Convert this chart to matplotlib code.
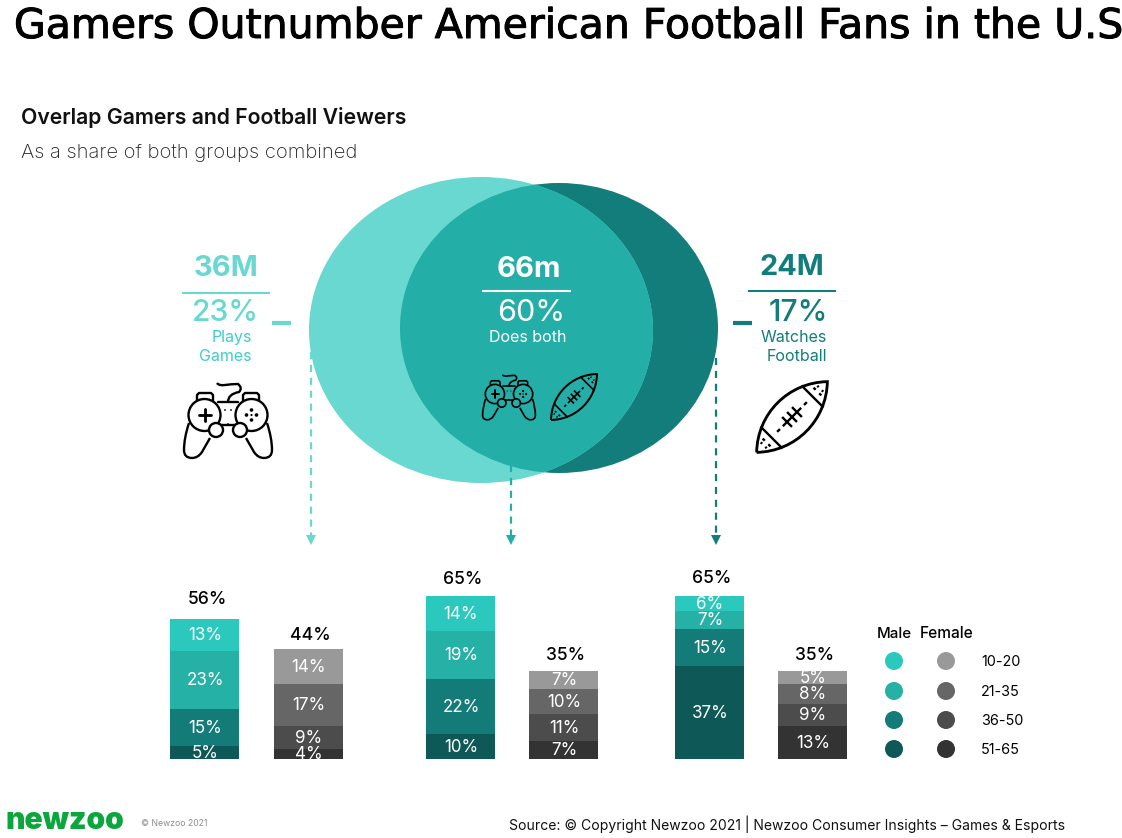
import numpy as np
import matplotlib
matplotlib.use("Agg")
import matplotlib.pyplot as plt
import matplotlib.patheffects as pe
from matplotlib.patches import Ellipse, Circle, Polygon, PathPatch
from matplotlib.path import Path

# ---------- data ----------
age_groups = ["10-20", "21-35", "36-50", "51-65"]
gamers_male = [13, 23, 15, 5]
gamers_female = [14, 17, 9, 4]
both_male = [14, 19, 22, 10]
both_female = [7, 10, 11, 7]
football_male = [6, 7, 15, 37]
football_female = [5, 8, 9, 13]
stacks = [gamers_male, gamers_female, both_male, both_female, football_male, football_female]

# ---------- styling / layout ----------
FONT = "Inter"
plt.rcParams["font.family"] = [FONT, "DejaVu Sans"]
W, H = 1122, 838
LIGHT, MID, DARK = "#68D8D0", "#23AFA7", "#127D7A"
TXT_LIGHT = "#3CCFC5"
MALE = ["#2BC9BD", "#26B1A6", "#137C79", "#0E5957"]
FEMALE = ["#999999", "#666666", "#4C4C4C", "#333333"]
BAR_CENTERS = [205, 308.5, 460.5, 563.5, 709.5, 812.5]
BAR_W = 69
TOTAL_GAP = [19, 13, 16.5, 15.5, 17.5, 15.5]
BASE_PX, PX_PER_PCT = 758.5, 2.5


def fs(px):
    return px * 0.72


fig = plt.figure(figsize=(W / 100, H / 100), dpi=100, facecolor="white")
ax = fig.add_axes([0, 0, 1, 1])
ax.set_xlim(0, W)
ax.set_ylim(H, 0)
ax.axis("off")


def T(x, y, s, size, color="black", ha="left", weight="normal", **kw):
    return ax.text(x, y + 1.5, s, fontsize=fs(size), color=color, ha=ha, va="center",
                   fontweight=weight, **kw)


# ---------- headings ----------
t = ax.text(14, 27, "Gamers Outnumber American Football Fans in the U.S.", fontsize=fs(41),
            family="DejaVu Sans", color="black", ha="left", va="center")
t.set_path_effects([pe.withStroke(linewidth=0.7, foreground="black")])
T(21, 116, "Overlap Gamers and Football Viewers", 21.2, weight="semibold", color="#111111")
T(21, 152, "As a share of both groups combined", 20.2, color="#222222", weight="light")

# ---------- venn ----------
left = Ellipse((481, 330), 344, 306, fc=LIGHT, ec="none", zorder=2)
right = Ellipse((559, 328), 318, 290, fc=DARK, ec="none", zorder=1)
ax.add_patch(right)
ax.add_patch(left)
both = Ellipse((481, 330), 344, 306, fc=MID, ec="none", zorder=3)
ax.add_patch(both)
both.set_clip_path(Ellipse((559, 328), 318, 290, transform=ax.transData))

# ---------- callouts ----------
T(226, 267, "36M", 29, LIGHT, "center", "bold", zorder=5)
T(225, 311, "23%", 30, LIGHT, "center", "medium", zorder=5)
T(252, 336, "Plays", 16, TXT_LIGHT, "right", zorder=5)
T(252, 355, "Games", 16, TXT_LIGHT, "right", zorder=5)
T(529, 268, "66m", 29, "white", "center", "bold", zorder=5)
T(531, 311, "60%", 30.5, "white", "center", zorder=5)
T(528, 336, "Does both", 16, "white", "center", zorder=5)
T(792, 265.5, "24M", 29, DARK, "center", "bold", zorder=5)
T(798, 311, "17%", 30, DARK, "center", "medium", zorder=5)
T(827, 336, "Watches", 16, DARK, "right", zorder=5)
T(827, 355, "Football", 16, DARK, "right", zorder=5)
ax.plot([182, 270], [293, 293], color=LIGHT, lw=1.5, solid_capstyle="butt")
ax.plot([482, 571], [291, 291], color="white", lw=1.5, solid_capstyle="butt", zorder=5)
ax.plot([748, 836], [291, 291], color=DARK, lw=1.5, solid_capstyle="butt")
ax.plot([272, 291], [323, 323], color=LIGHT, lw=3, solid_capstyle="butt")
ax.plot([733, 752], [323, 323], color=DARK, lw=3, solid_capstyle="butt")

# ---------- dashed arrows ----------
for x, y0, c in [(311, 352, LIGHT), (511, 465, MID), (716, 358, DARK)]:
    ax.plot([x, x], [y0, 535], color=c, lw=1.6, dashes=(3.2, 2.6), zorder=6)
    ax.add_patch(Polygon([[x - 5, 535], [x + 5, 535], [x, 545]], fc=c, ec="none", zorder=6))


# ---------- icons ----------
def gamepad(cx, cy, s, bg, lw):
    k = dict(color="black", lw=lw, zorder=7, solid_capstyle="round")

    def P(pts, **kw):
        pts = np.asarray(pts, float)
        ax.plot(cx + s * pts[:, 0], cy + s * pts[:, 1], **{**k, **kw})

    def C(x, y, r, fc=bg, z=8):
        ax.add_patch(Circle((cx + s * x, cy + s * y), s * r, fc=fc, ec="black",
                            lw=lw if fc != "black" else 0, zorder=z))

    def curve(verts):
        v = np.asarray(verts, float)
        v = np.column_stack([cx + s * v[:, 0], cy + s * v[:, 1]])
        ax.add_patch(PathPatch(Path(v, [1] + [3] * (len(v) - 1)), fc="none", ec="black",
                               lw=lw, zorder=7))

    for m in (-1, 1):
        curve([(m * 39, 3), (m * 44, 18), (m * 44, 30), (m * 44, 38), (m * 36, 38),
               (m * 30, 38), (m * 26, 32), (m * 22, 25), (m * 18, 18)])
        P([(m * 31, -19), (m * 31, -25), (m * 29, -27), (m * 17, -27), (m * 15, -25), (m * 15, -19)])
        C(m * 23.5, -5, 16)
        C(m * 12, 10, 7, z=9)
    P([(-11, 5), (11, 5)])
    P([(-10, -18), (10, -18)])
    P([(-29, -5), (-17, -5)], lw=lw * 1.2, zorder=9)
    P([(-23, -11), (-23, 1)], lw=lw * 1.2, zorder=9)
    for dx, dy in [(0, -5), (-5, 0), (5, 0), (0, 5), (0, 0)]:
        C(23.5 + dx, -5 + dy, 1.8 if (dx or dy) else 1.1, fc="black", z=9)
    for x, y in [(-3, -10), (3, -10), (0, 4)]:
        C(x, y, 0.9, fc="black", z=9)
    curve([(-11, -37), (-9, -34), (-3, -35), (4, -36), (10, -36), (15, -32), (11, -28),
           (0, -26), (0, -18)])


def football(cx, cy, s, lw):
    a = np.radians(-45)

    def R(pts):
        pts = np.asarray(pts, float) * s
        return np.column_stack([cx + pts[:, 0] * np.cos(a) - pts[:, 1] * np.sin(a),
                                cy + pts[:, 0] * np.sin(a) + pts[:, 1] * np.cos(a)])

    def L(pts, **kw):
        p = R(pts)
        ax.plot(p[:, 0], p[:, 1], color="black", lw=lw, zorder=7, solid_capstyle="butt", **kw)

    outline = [(-50, 0), (-22, -27), (22, -27), (50, 0), (22, 27), (-22, 27), (-50, 0)]
    ax.add_patch(PathPatch(Path(R(outline), [1, 4, 4, 4, 4, 4, 4]),
                           fc="none", ec="black", lw=lw * 1.2, zorder=7))
    for m in (-1, 1):
        L([(m * 29, -15.5), (m * 29, 15.5)])
        for d in (-4, 4):
            L([(m * 36, d - 1.5), (m * 36, d + 1.5)])
            L([(m * 40, d * 0.8 - 1), (m * 40, d * 0.8 + 1)])
    L([(-13, 0), (13, 0)])
    L([(-21, 0), (-17, 0)])
    L([(17, 0), (21, 0)])
    for x in (-7, 0, 7):
        L([(x, -7), (x, 7)])


gamepad(228, 420, 1.0, "white", 1.7)
gamepad(509, 397, 0.6, MID, 1.2)
football(792, 417, 1.0, 1.7)
football(574, 397, 0.65, 1.2)

# ---------- stacked bars ----------
top_px = 550
bx = fig.add_axes([0, 1 - BASE_PX / H, 1, (BASE_PX - top_px) / H])
bx.set_xlim(0, W)
bx.set_ylim(0, (BASE_PX - top_px) / PX_PER_PCT)
bx.axis("off")
for i, vals in enumerate(stacks):
    cols = MALE if i % 2 == 0 else FEMALE
    x = BAR_CENTERS[i]
    bottom = float(sum(vals))
    bx.text(x + 2, bottom + TOTAL_GAP[i] / PX_PER_PCT, f"{int(bottom)}%", ha="center",
            va="center", fontsize=fs(17.5), color="black", fontweight="medium")
    for v, c in zip(vals, cols):
        bottom -= v
        bx.bar(x, v, bottom=bottom, width=BAR_W, color=c, linewidth=0)
        bx.text(x + 0.5, bottom + v / 2 - 1 / PX_PER_PCT, f"{v}%", ha="center", va="center",
                color="white", fontsize=fs(17), clip_on=True)

# ---------- legend ----------
T(894, 632, "Male", 15, ha="center", weight="medium")
T(946.5, 632, "Female", 15.5, ha="center", weight="medium")
for label, m, f, y in zip(age_groups, MALE, FEMALE, [661, 691, 720, 749]):
    ax.add_patch(Circle((894, y), 9, fc=m, ec="none"))
    ax.add_patch(Circle((946, y), 9, fc=f, ec="none"))
    T(981, y - 0.5, label, 14.4)

# ---------- footer ----------
T(6, 819, "newzoo", 30, "#0BA63C", weight="black")
T(141, 822, "© Newzoo 2021", 8.7, "#8C8C8C")
T(509, 823, "Source: © Copyright Newzoo 2021 | Newzoo Consumer Insights – Games & Esports", 13.97, "#111111")

fig.savefig("out.png", dpi=100)
